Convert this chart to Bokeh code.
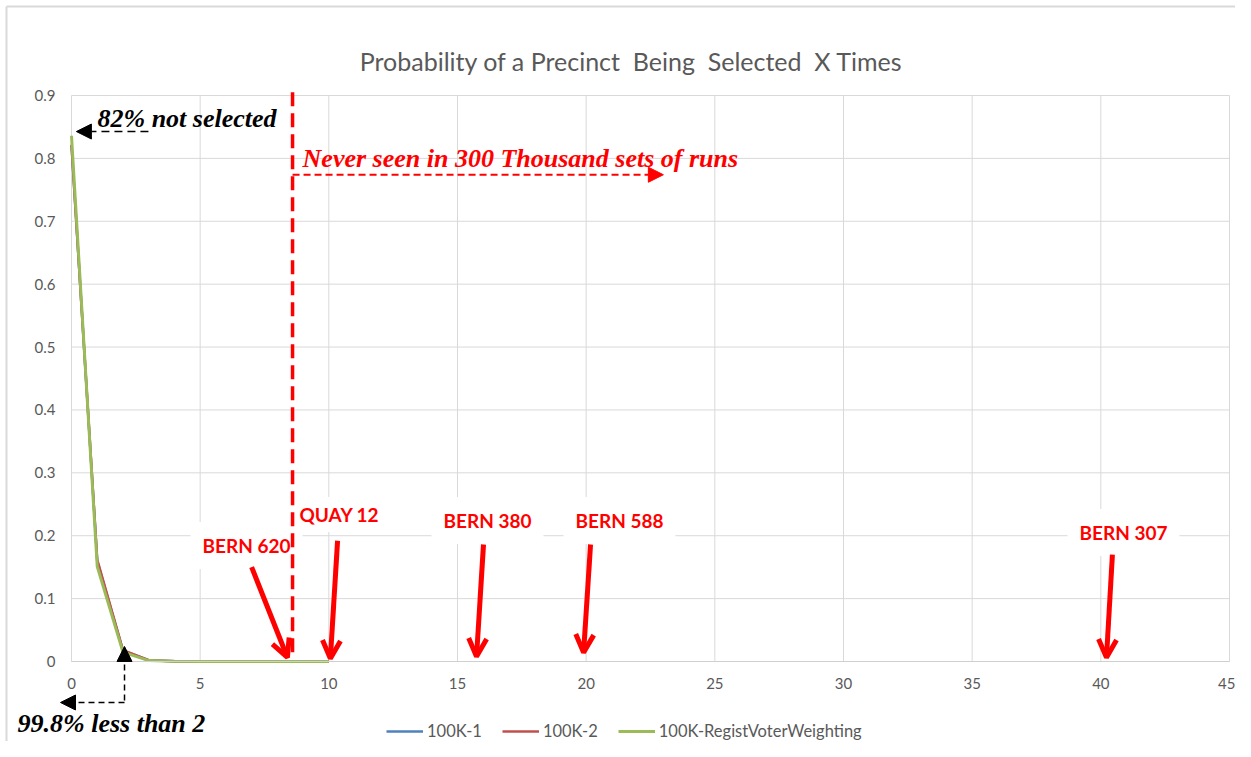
from bokeh.plotting import figure
from bokeh.models import Range1d, FixedTicker, Label, Arrow, OpenHead, NormalHead
from bokeh.embed import file_html
from bokeh.resources import INLINE

# ---------------- data ----------------
times = [0, 1, 2, 3, 4, 5, 6, 7, 8, 9, 10]
run_100k_1 = [0.822, 0.160, 0.0175, 0.002, 0.0003, 0, 0, 0, 0, 0, 0]
run_100k_2 = [0.821, 0.162, 0.0180, 0.002, 0.0003, 0, 0, 0, 0, 0, 0]
run_regist = [0.836, 0.151, 0.0150, 0.0015, 0.0002, 0, 0, 0, 0, 0, 0]

series_names = ["100K-1", "100K-2", "100K-RegistVoterWeighting"]
series_colors = ["#4F81BD", "#C0504D", "#9BBB59"]
series_widths = [2.5, 2.5, 3]

x_ticks = [0, 5, 10, 15, 20, 25, 30, 35, 40, 45]
y_ticks = [0, 0.1, 0.2, 0.3, 0.4, 0.5, 0.6, 0.7, 0.8, 0.9]
x_min, x_max = 0, 45
y_min, y_max = 0, 0.9

# double spaces of the original title kept with no-break spaces
title_text = "Probability of a Precinct\u00a0 Being\u00a0 Selected\u00a0 X Times"

# precinct call-outs: label, label anchor (x, y), box padding, arrow start, arrow end
callout_names = ["BERN 620", "QUAY 12", "BERN 380", "BERN 588", "BERN 307"]
callout_lx = [4.625, 8.627, 13.99, 19.119, 38.705]
callout_ly = [0.1845, 0.2337, 0.2242, 0.2242, 0.2051]
callout_pad = [12, 6, 12, 12, 12]
callout_x0 = [7.0, 10.34, 16.01, 20.17, 40.45]
callout_y0 = [0.150, 0.192, 0.186, 0.186, 0.170]
callout_x1 = [8.39, 10.06, 15.74, 19.90, 40.22]
callout_y1 = [0.0064, 0.0048, 0.008, 0.0143, 0.0064]

cutoff_x = 8.59

GRAY = "#595959"
GRID = "#d9d9d9"

X0, X1 = -2.7591, 45.2332
Y0, Y1 = -0.12721, 1.05106

# the frame fills the whole figure; the axes sit at the data origin
p = figure(width=1235, height=741, output_backend="svg", toolbar_location=None,
           x_range=Range1d(X0, X1), y_range=Range1d(Y0, Y1),
           min_border=0, outline_line_color=None,
           background_fill_color="white", border_fill_color="white")
p.grid.visible = False

# chart-area border (left and top edges visible in the original)
p.segment(x0=[-2.526, -2.526], y0=[1.0415, 1.0415], x1=[-2.526, X1], y1=[Y0, 1.0415],
          line_color=GRID, line_width=2, level="underlay")

# grid lines limited to the plot area, drawn from the tick arrays
p.segment(x0=x_ticks, y0=[y_min] * len(x_ticks), x1=x_ticks, y1=[y_max] * len(x_ticks),
          line_color=GRID, line_width=1, level="underlay")
p.segment(x0=[x_min] * len(y_ticks), y0=y_ticks, x1=[x_max] * len(y_ticks), y1=y_ticks,
          line_color=GRID, line_width=1, level="underlay")

# axes
p.xaxis.fixed_location = 0
p.yaxis.fixed_location = 0
p.xaxis.bounds = (x_min, x_max)
p.yaxis.bounds = (y_min, y_max)
p.xaxis.ticker = FixedTicker(ticks=x_ticks)
p.yaxis.ticker = FixedTicker(ticks=y_ticks)
p.yaxis.major_label_overrides = {0: "0"}
for ax in (p.xaxis[0], p.yaxis[0]):
    ax.major_tick_line_color = None
    ax.minor_tick_line_color = None
    ax.major_label_text_font = "Lato"
    ax.major_label_text_font_size = "15px"
    ax.major_label_text_color = GRAY
p.yaxis.axis_line_color = None
p.xaxis.axis_line_color = "#cfcfcf"
p.xaxis.major_label_standoff = 11
p.yaxis.major_label_standoff = 10

# series
for vals, name, col, w in zip([run_100k_1, run_100k_2, run_regist],
                              series_names, series_colors, series_widths):
    p.line(times, vals, line_color=col, line_width=w, legend_label=name)

# legend
lg = p.legend[0]
lg.orientation = "horizontal"
lg.location = (386, 0)
lg.border_line_color = None
lg.background_fill_alpha = 0
lg.padding = 0
lg.margin = 0
lg.spacing = 20
lg.glyph_width = 37
lg.glyph_height = 16
lg.label_height = 16
lg.label_standoff = 4
lg.label_text_font = "Lato"
lg.label_text_font_size = "16.5px"
lg.label_text_color = GRAY

# title
p.add_layout(Label(x=21.762, y=0.9541, text=title_text, text_align="center",
                   text_baseline="middle", text_font="Lato",
                   text_font_size="25px", text_color=GRAY))

# callout labels and arrows
for name, lx, ly, pad in zip(callout_names, callout_lx, callout_ly, callout_pad):
    p.add_layout(Label(x=lx, y=ly, text=name, text_align="left",
                       text_baseline="middle", text_font="Lato",
                       text_font_style="bold", text_font_size="19px",
                       text_color="#FF0000", background_fill_color="white",
                       padding=pad))
for x0, y0, x1, y1 in zip(callout_x0, callout_y0, callout_x1, callout_y1):
    p.add_layout(Arrow(x_start=x0, y_start=y0, x_end=x1, y_end=y1,
                       line_color="#FF0000", line_width=5,
                       end=OpenHead(line_color="#FF0000", line_width=5, size=18)))

# cutoff dashed line
cut = p.segment(x0=[cutoff_x], y0=[0.905], x1=[cutoff_x], y1=[0.0095],
                line_color="#FF0000", line_width=3.5, line_dash="14 7")
cut.level = "overlay"

SERIF = "Liberation Serif"
# "never seen" annotation
p.add_layout(Arrow(x_start=cutoff_x, y_start=0.774, x_end=23.0, y_end=0.774,
                   line_color="#FF0000", line_width=2, line_dash="7 4",
                   end=NormalHead(fill_color="#FF0000", line_color="#FF0000", size=15)))
p.add_layout(Label(x=8.98, y=0.80, text="Never seen in 300 Thousand sets of runs",
                   text_align="left", text_baseline="middle",
                   text_font=SERIF, text_font_style="bold italic",
                   text_font_size="26px", text_color="#FF0000"))

# "82% not selected"
p.add_layout(Arrow(x_start=2.99, y_start=0.8427, x_end=0.19, y_end=0.8427,
                   line_color="black", line_width=1.5, line_dash="8 5",
                   end=NormalHead(fill_color="black", line_color="black", size=15)))
p.add_layout(Label(x=1.01, y=0.8634, text="82% not selected", text_align="left",
                   text_baseline="middle", text_font=SERIF,
                   text_font_style="bold italic", text_font_size="26px",
                   text_color="black"))

# "99.8% less than 2"
p.add_layout(Arrow(x_start=2.06, y_start=-0.062, x_end=2.06, y_end=0.0239,
                   line_color="black", line_width=1.5, line_dash="6 4",
                   end=NormalHead(fill_color="black", line_color="black", size=15)))
p.add_layout(Arrow(x_start=2.06, y_start=-0.0652, x_end=-0.427, y_end=-0.0652,
                   line_color="black", line_width=1.5, line_dash="6 4",
                   end=NormalHead(fill_color="black", line_color="black", size=15)))
p.add_layout(Label(x=-2.098, y=-0.0986, text="99.8% less than 2", text_align="left",
                   text_baseline="middle", text_font=SERIF,
                   text_font_style="bold italic", text_font_size="26px",
                   text_color="black"))

open("out.html", "w").write(file_html(p, INLINE))
